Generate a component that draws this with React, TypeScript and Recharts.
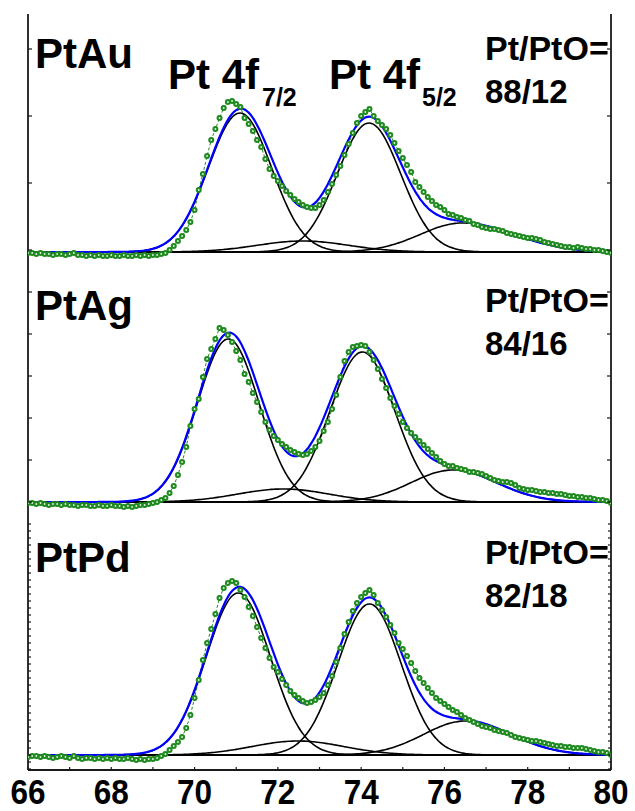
import React from 'react';
import { LineChart, Line, XAxis, YAxis, ReferenceLine } from 'recharts';

// ---------- axis ----------
const energyStart = 66;
const energyStep = 0.1;
const xTicks = [66, 67, 68, 69, 70, 71, 72, 73, 74, 75, 76, 77, 78, 79, 80];
const xTickLabels = [66, 68, 70, 72, 74, 76, 78, 80];

// ---------- measured spectra (intensity, a.u.), 66.0 ... 80.0 eV step 0.1 ----------
const ptAuCounts = [
  -1, -1, -2, -1, -2, -2, -3, -2, -2, -3,
  -2, -1, -3, -3, -4, -3, -4, -3, -4, -4,
  -3, -4, -4, -3, -4, -4, -3, -4, -3, -4,
  -3, -3, -2, -1, 2, 6, 11, 16, 22, 30,
  42, 62, 78, 96, 112, 123, 134, 144, 150, 151,
  148, 145, 134, 128, 121, 112, 105, 93, 83, 76,
  71, 66, 61, 57, 53, 50, 47, 45, 44, 44,
  47, 52, 60, 68, 77, 86, 97, 108, 119, 129,
  136, 140, 143, 136, 131, 127, 123, 117, 109, 101,
  94, 87, 80, 70, 65, 60, 55, 51, 47, 45,
  42, 38, 37, 35, 34, 32, 31, 28, 27, 25,
  24, 23, 23, 22, 21, 19, 18, 17, 16, 15,
  14, 14, 13, 12, 10, 9, 8, 7, 6, 5,
  5, 4, 5, 4, 3, 3, 2, 2, 1, 0,
  -1,
];
const ptAgCounts = [
  -1, -1, -2, -1, -2, -3, -2, -2, -3, -2,
  -3, -3, -4, -3, -3, -4, -4, -3, -4, -4,
  -3, -4, -4, -5, -4, -5, -4, -3, -3, -2,
  -1, 0, 2, 4, 9, 16, 27, 40, 55, 76,
  93, 103, 125, 143, 153, 163, 174, 172, 167, 160,
  151, 142, 128, 120, 109, 100, 90, 80, 72, 66,
  62, 58, 55, 52, 50, 48, 47, 48, 51, 55,
  61, 71, 80, 93, 107, 125, 141, 150, 155, 156,
  157, 156, 150, 142, 133, 123, 114, 104, 96, 88,
  80, 74, 69, 65, 61, 57, 53, 49, 45, 41,
  38, 36, 36, 34, 33, 32, 30, 30, 29, 28,
  26, 24, 22, 21, 20, 20, 19, 17, 14, 13,
  12, 12, 11, 10, 10, 9, 9, 8, 8, 7,
  6, 6, 5, 5, 4, 4, 3, 2, 2, 1,
  -1,
];
const ptPdCounts = [
  -2, -1, -1, -2, -1, -2, -3, -2, -1, -2,
  -3, -1, -3, -4, -3, -3, -4, -3, -4, -3,
  -4, -3, -4, -4, -3, -4, -5, -4, -5, -4,
  -4, -3, -1, 1, 5, 9, 13, 18, 27, 40,
  57, 75, 95, 112, 126, 141, 157, 167, 172, 174,
  172, 165, 158, 148, 139, 128, 117, 107, 97, 88,
  83, 76, 70, 64, 60, 57, 54, 52, 53, 55,
  58, 62, 70, 79, 93, 107, 121, 133, 144, 152,
  158, 162, 165, 160, 152, 145, 138, 130, 122, 112,
  106, 99, 92, 84, 77, 72, 67, 62, 57, 54,
  51, 48, 45, 43, 40, 37, 35, 33, 31, 29,
  28, 27, 25, 24, 23, 22, 20, 18, 17, 16,
  15, 14, 14, 13, 12, 11, 10, 9, 9, 8,
  8, 7, 7, 7, 6, 5, 4, 3, 3, 2,
  0,
];

// ---------- fitted components: Pt 4f7/2, Pt 4f5/2, PtO 4f7/2, PtO 4f5/2 ----------
const ptAuCenters = [71.09, 74.19, 72.6, 76.42];
const ptAuHeights = [139, 129, 11, 29];
const ptAuWidthLow = [0.76, 0.76, 1.1, 1.0];
const ptAuWidthHigh = [0.76, 0.76, 1.1, 1.25];

const ptAgCenters = [70.81, 74.03, 72.13, 76.2];
const ptAgHeights = [163, 150, 13, 32];
const ptAgWidthLow = [0.74, 0.78, 1.1, 1.0];
const ptAgWidthHigh = [0.74, 0.78, 1.1, 1.05];

const ptPdCenters = [71.05, 74.2, 72.48, 76.5];
const ptPdHeights = [162, 151, 14, 34];
const ptPdWidthLow = [0.77, 0.76, 1.1, 1.0];
const ptPdWidthHigh = [0.77, 0.76, 1.1, 1.1];

// ---------- labels ----------
const sampleNames = ['PtAu', 'PtAg', 'PtPd'];
const ratioTexts = ['88/12', '84/16', '82/18'];

// ---------- tick positions on the (unlabelled) intensity axes ----------
const ptAuYTicks = [2, 69, 136, 203];
const ptAgYTicks = [0, 42, 84, 126, 168, 210];
const ptPdYTicks = [-14, -7, 0, 7, 14, 21, 28, 35, 42, 49, 56, 63, 70, 77, 84, 91, 98, 105, 112, 119, 126, 133, 140, 147, 154, 161, 168, 175, 182, 189, 196, 203, 210, 217, 224, 231];

const GREEN = '#1f8a1f';
const AXIS = '#1a1a1a';

function buildCounts(counts: number[]) {
  return counts.map((v, i) => ({ x: +(energyStart + i * energyStep).toFixed(2), y: v }));
}

function buildFit(centers: number[], heights: number[], wl: number[], wr: number[]) {
  const rows: any[] = [];
  for (let i = 0; i <= 280; i++) {
    const x = energyStart + i * 0.05;
    const comps = centers.map((c, k) => {
      const s = x < c ? wl[k] : wr[k];
      const d = (x - c) / s;
      return heights[k] * Math.exp(-0.5 * d * d);
    });
    rows.push({ x, c0: comps[0], c1: comps[1], c2: comps[2], c3: comps[3], fit: comps[0] + comps[1] + comps[2] + comps[3] });
  }
  return rows;
}

const makeTopTick = (len: number) => (p: any) => (
  <line x1={p.x} y1={p.y} x2={p.x} y2={p.y + len} stroke={AXIS} strokeWidth={1.2} />
);
const makeLeftTick = (len: number) => (p: any) => (
  <line x1={p.x} y1={p.y} x2={p.x + len} y2={p.y} stroke={AXIS} strokeWidth={1.2} />
);
const makeRightTick = (len: number) => (p: any) => (
  <line x1={p.x} y1={p.y} x2={p.x - len} y2={p.y} stroke={AXIS} strokeWidth={1.2} />
);
const BottomTick = (p: any) => {
  const v = p.payload.value;
  const showText = xTickLabels.indexOf(v) >= 0;
  return (
    <g>
      <line x1={p.x} y1={p.y} x2={p.x} y2={p.y - 3} stroke={AXIS} strokeWidth={1.2} />
      {showText && (
        <g transform={`translate(${p.x},${p.y + 33.5}) scale(0.9,1)`}>
          <text x={0} y={0} textAnchor="middle" fontSize={35} fontWeight="bold" fontFamily="'Liberation Sans', Arial, sans-serif" fill="#000">
            {v}
          </text>
        </g>
      )}
    </g>
  );
};

const DataDot = (p: any) => {
  if (p.cx == null || p.cy == null) return <g key={p.key} />;
  return (
    <g key={p.key}>
      <circle cx={p.cx} cy={p.cy} r={3} fill={GREEN} />
      <circle cx={p.cx} cy={p.cy} r={0.9} fill="#e6f4e6" />
    </g>
  );
};

const axisLine = { stroke: AXIS, strokeWidth: 1.8 };

type PanelProps = {
  top: number;
  counts: number[];
  centers: number[];
  heights: number[];
  wl: number[];
  wr: number[];
  domain: [number, number];
  yTicks: number[];
  yTickLen: number;
  bottomLabels: boolean;
};

function Panel({ top, counts, centers, heights, wl, wr, domain, yTicks, yTickLen, bottomLabels }: PanelProps) {
  const countRows = buildCounts(counts);
  const fitRows = buildFit(centers, heights, wl, wr);
  const height = bottomLabels ? 295 : 256;
  return (
    <div style={{ position: 'absolute', left: 0, top }}>
      <LineChart width={635} height={height} margin={{ top: 2, right: 0, bottom: bottomLabels ? 0 : 2, left: 0 }}>
        <XAxis
          xAxisId="b"
          type="number"
          dataKey="x"
          domain={[66, 80]}
          ticks={xTicks}
          interval={0}
          allowDataOverflow
          orientation="bottom"
          height={bottomLabels ? 41 : 0}
          tickSize={0}
          tickMargin={0}
          tickLine={false}
          axisLine={axisLine}
          tick={bottomLabels ? BottomTick : false}
        />
        <XAxis
          xAxisId="t"
          type="number"
          dataKey="x"
          domain={[66, 80]}
          ticks={xTicks}
          interval={0}
          allowDataOverflow
          orientation="top"
          height={0}
          tickSize={0}
          tickMargin={0}
          tickLine={false}
          axisLine={axisLine}
          tick={makeTopTick(3)}
        />
        <YAxis
          yAxisId="l"
          type="number"
          domain={domain}
          ticks={yTicks}
          interval={0}
          allowDataOverflow
          orientation="left"
          width={28}
          tickSize={0}
          tickMargin={0}
          tickLine={false}
          axisLine={axisLine}
          tick={makeLeftTick(yTickLen)}
        />
        <YAxis
          yAxisId="r"
          type="number"
          domain={domain}
          ticks={yTicks}
          interval={0}
          allowDataOverflow
          orientation="right"
          width={24}
          tickSize={0}
          tickMargin={0}
          tickLine={false}
          axisLine={axisLine}
          tick={makeRightTick(yTickLen)}
        />
        <ReferenceLine xAxisId="b" yAxisId="l" y={0} stroke="#000" strokeWidth={1.8} />
        <Line
          xAxisId="b"
          yAxisId="l"
          data={countRows}
          dataKey="y"
          type="linear"
          stroke={GREEN}
          strokeWidth={1}
          strokeDasharray="3 2"
          dot={DataDot}
          isAnimationActive={false}
        />
        {['c0', 'c1', 'c2', 'c3'].map((k) => (
          <Line
            key={k}
            xAxisId="b"
            yAxisId="l"
            data={fitRows}
            dataKey={k}
            type="monotone"
            stroke="#000"
            strokeWidth={1.6}
            dot={false}
            isAnimationActive={false}
          />
        ))}
        <Line
          xAxisId="b"
          yAxisId="l"
          data={fitRows}
          dataKey="fit"
          type="monotone"
          stroke="#0000ff"
          strokeWidth={2.2}
          dot={false}
          isAnimationActive={false}
        />
      </LineChart>
    </div>
  );
}

export default function App() {
  const font = "'Liberation Sans', Arial, sans-serif";
  return (
    <div style={{ position: 'relative', width: 635, height: 811, overflow: 'hidden', background: '#fff' }}>
      <style>{`body{margin:0;overflow:hidden;background:#fff}`}</style>
      <Panel top={12} counts={ptAuCounts} centers={ptAuCenters} heights={ptAuHeights} wl={ptAuWidthLow} wr={ptAuWidthHigh} domain={[-14, 238]} yTicks={ptAuYTicks} yTickLen={4} bottomLabels={false} />
      <Panel top={264} counts={ptAgCounts} centers={ptAgCenters} heights={ptAgHeights} wl={ptAgWidthLow} wr={ptAgWidthHigh} domain={[-16, 236]} yTicks={ptAgYTicks} yTickLen={4} bottomLabels={false} />
      <Panel top={516} counts={ptPdCounts} centers={ptPdCenters} heights={ptPdHeights} wl={ptPdWidthLow} wr={ptPdWidthHigh} domain={[-15, 237]} yTicks={ptPdYTicks} yTickLen={3} bottomLabels={true} />
      <svg width={635} height={811} style={{ position: 'absolute', left: 0, top: 0, pointerEvents: 'none' }}>
        <g fontFamily={font} fontWeight="bold" fill="#000">
          {sampleNames.map((n, i) => (
            <text key={n} x={35} y={68 + i * 252} fontSize={42}>{n}</text>
          ))}
          {ratioTexts.map((r, i) => (
            <g key={r}>
              <text x={485} y={60 + i * 252} fontSize={34}>Pt/PtO=</text>
              <text x={485} y={103 + i * 252} fontSize={33}>{r}</text>
            </g>
          ))}
          <text x={168} y={89} fontSize={42}>
            Pt 4f
            <tspan x={262} y={106} fontSize={25}>7/2</tspan>
          </text>
          <text x={329} y={89} fontSize={42}>
            Pt 4f
            <tspan x={422} y={106} fontSize={25}>5/2</tspan>
          </text>
        </g>
      </svg>
    </div>
  );
}
